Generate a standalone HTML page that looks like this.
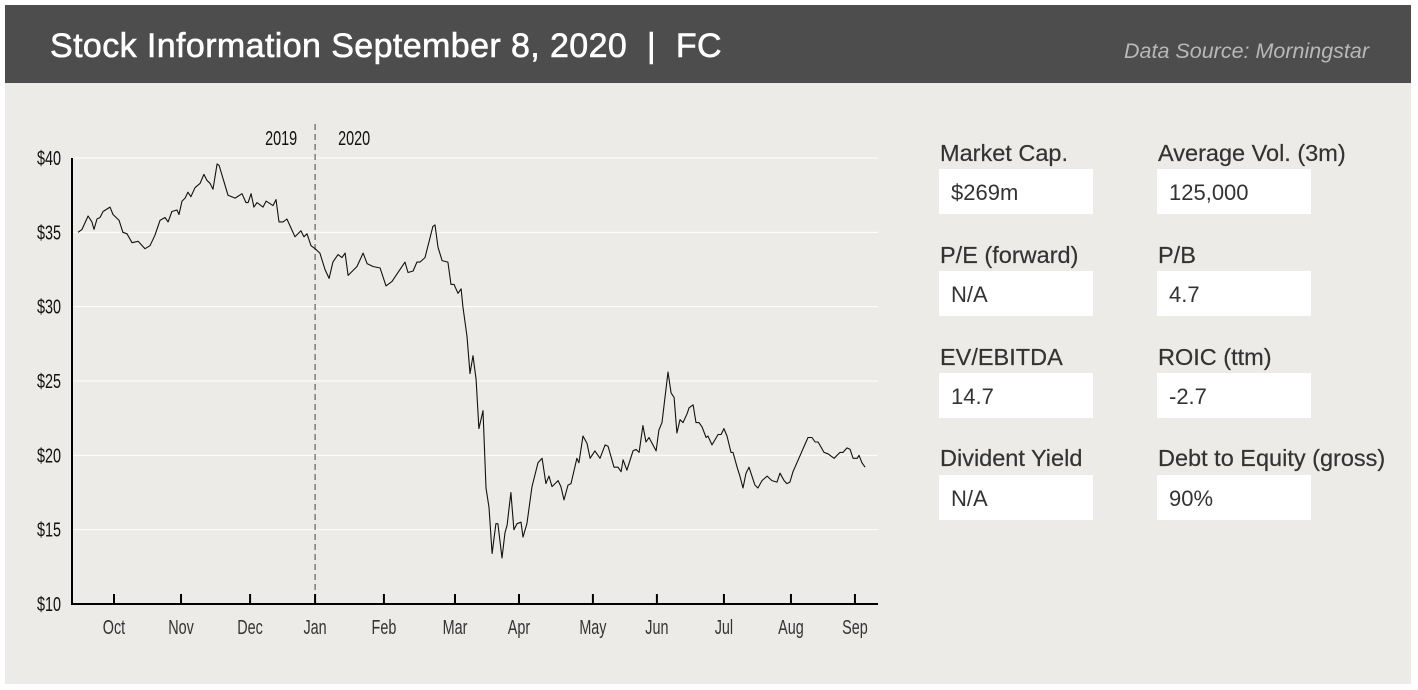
<!DOCTYPE html>
<html><head><meta charset="utf-8">
<style>
body{margin:0;width:1418px;height:690px;background:#fff;position:relative;overflow:hidden;font-family:"Liberation Sans",sans-serif;}
#header{position:absolute;left:5px;top:5px;width:1406px;height:78px;background:#4d4d4d;}
#title{position:absolute;left:45px;top:22px;color:#fff;font-size:34px;letter-spacing:0.4px;-webkit-text-stroke:0.6px #fff;white-space:nowrap;}
#source{position:absolute;right:42px;top:34px;color:#b8b8b8;font-size:21.5px;font-style:italic;}
#panel{position:absolute;left:5px;top:83px;width:1406px;height:601px;background:#ecebe8;}
.lbl{position:absolute;font-size:23.5px;color:#333;-webkit-text-stroke:0.2px #333;white-space:nowrap;}
.box{position:absolute;width:154px;height:45px;background:#fff;font-size:22px;color:#333;line-height:48px;box-sizing:border-box;padding-left:12px;}
svg text{font-family:"Liberation Sans",sans-serif;}
</style></head><body>
<div id="header">
 <div id="title">Stock Information September 8, 2020 &nbsp;|&nbsp; FC</div>
 <div id="source">Data Source: Morningstar</div>
</div>
<div id="panel"></div>
<svg id="chart" width="1418" height="690" style="position:absolute;left:0;top:0"></svg>

<div class="lbl" style="left:940px;top:140px">Market Cap.</div>
<div class="box" style="left:939px;top:169px">$269m</div>
<div class="lbl" style="left:1158px;top:140px">Average Vol. (3m)</div>
<div class="box" style="left:1157px;top:169px">125,000</div>
<div class="lbl" style="left:940px;top:242px">P/E (forward)</div>
<div class="box" style="left:939px;top:271px">N/A</div>
<div class="lbl" style="left:1158px;top:242px">P/B</div>
<div class="box" style="left:1157px;top:271px">4.7</div>
<div class="lbl" style="left:940px;top:344px">EV/EBITDA</div>
<div class="box" style="left:939px;top:373px">14.7</div>
<div class="lbl" style="left:1158px;top:344px">ROIC (ttm)</div>
<div class="box" style="left:1157px;top:373px">-2.7</div>
<div class="lbl" style="left:940px;top:445px">Divident Yield</div>
<div class="box" style="left:939px;top:475px">N/A</div>
<div class="lbl" style="left:1158px;top:445px">Debt to Equity (gross)</div>
<div class="box" style="left:1157px;top:475px">90%</div>

<script>
// trading-time axis units (chart-day index)
const days=[12.2,14.2,17.2,19.1,20.1,21.6,23.1,24.6,28.0,29.5,32.5,34.4,36.4,38.9,41.9,45.3,47.8,50.2,52.7,55.2,56.7,58.6,61.1,62.1,63.6,65.1,66.5,68.0,70.0,72.5,74.4,75.9,77.4,78.9,80.9,81.9,84.3,86.3,89.8,93.2,95.2,96.2,97.7,99.1,100.6,103.6,105.1,108.5,110.0,111.5,113.5,115.4,119.4,122.3,123.8,125.3,127.3,129.3,131.7,134.2,136.2,138.1,140.6,142.6,144.1,145.6,150.0,153.0,155.0,157.9,161.4,164.3,167.3,173.7,175.2,177.7,179.6,181.1,183.6,187.5,188.5,190.0,192.0,194.9,196.4,197.9,199.9,201.4,202.3,204.3,205.8,207.3,208.8,210.2,212.2,213.7,215.2,216.7,218.6,219.6,221.6,223.1,224.1,226.0,227.5,229.0,231.0,232.0,233.9,236.4,239.4,241.4,243.3,244.8,246.3,249.3,250.7,252.2,254.2,255.7,258.6,259.6,261.6,263.6,265.1,267.5,270.0,272.5,274.0,276.9,278.9,280.4,281.4,283.3,286.3,287.8,289.3,291.2,292.7,294.2,297.7,299.1,300.6,303.6,305.1,306.6,308.0,309.5,311.0,313.0,314.0,316.0,317.4,318.9,320.4,322.4,323.3,325.3,328.3,329.8,331.2,332.7,334.7,335.7,337.7,339.1,340.6,342.1,343.6,346.5,348.0,350.0,352.5,354.9,357.4,358.9,360.9,362.3,363.8,365.3,372.7,374.7,376.2,377.7,380.6,382.6,385.6,388.5,390.0,392.0,393.5,395.0,397.0,397.9,399.4,400.9];
const prices=[35.0,35.2,36.1,35.7,35.2,35.9,36.0,36.4,36.7,36.2,35.8,35.0,34.9,34.3,34.4,33.9,34.1,34.8,35.8,36.0,35.7,36.4,36.5,36.2,37.1,37.3,37.7,37.4,38.0,38.3,38.9,38.5,38.3,37.9,39.6,39.5,38.4,37.5,37.3,37.6,37.0,37.0,37.6,36.7,37.0,36.7,37.1,36.8,37.2,35.7,35.7,35.9,34.7,35.1,34.7,34.9,34.1,33.9,33.6,32.5,31.9,33.0,33.5,33.3,33.6,32.1,32.7,33.6,32.9,32.7,32.6,31.4,31.7,33.0,32.3,32.4,33.0,33.0,33.3,35.4,35.5,34.0,33.1,33.0,31.5,31.5,30.9,31.2,30.0,28.0,25.5,26.7,25.1,21.8,23.0,17.8,16.5,13.4,15.4,15.4,13.1,14.8,15.3,17.5,15.0,15.4,15.5,14.5,15.4,17.9,19.5,19.8,18.1,18.6,17.9,18.3,17.9,17.0,18.0,18.1,19.8,19.5,21.3,20.8,19.8,20.3,19.8,20.7,20.6,19.2,19.2,18.9,19.7,19.0,20.3,20.4,20.2,22.0,20.9,21.2,20.3,21.7,22.2,25.6,24.2,23.9,21.5,22.4,22.2,22.8,23.2,23.4,22.2,22.2,21.9,21.2,21.3,20.7,21.4,21.4,21.8,21.3,20.2,20.2,19.2,18.6,17.8,18.8,19.2,18.0,17.8,18.3,18.6,18.3,18.2,18.8,18.3,18.1,18.2,18.9,21.2,21.2,20.9,20.9,20.2,20.1,19.8,20.2,20.2,20.5,20.4,19.8,19.8,20.0,19.5,19.2];
const yTicks=[10,15,20,25,30,35,40];
const yTickLabels=["$10","$15","$20","$25","$30","$35","$40"];
const monthDays=[30,63.1,97.2,129.3,163.3,198.4,230.0,266.5,298.1,331.2,364.3,395.9];
const monthLabels=["Oct","Nov","Dec","Jan","Feb","Mar","Apr","May","Jun","Jul","Aug","Sep"];
const yearSplitDay=129.3;

const NS="http://www.w3.org/2000/svg";
const svg=document.getElementById('chart');
const X0=72,X1=878,Y0=604,Y1=158;
function xs(d){return 114+(d-30)*2.025;}
function ys(v){return Y0-(v-10)*(Y0-Y1)/30;}
function mk(tag,attrs){const e=document.createElementNS(NS,tag);for(const k in attrs)e.setAttribute(k,attrs[k]);svg.appendChild(e);return e;}
function ntext(x,y,str,anchor,size,fill){
  const t=mk('text',{transform:'translate('+x+','+y+') scale(0.72,1)','text-anchor':anchor,'font-size':size,fill:fill});
  t.textContent=str;return t;
}

yTicks.forEach((t,i)=>{
  if(t>10){const g=mk('line',{x1:X0,x2:X1,y1:ys(t),y2:ys(t),stroke:'#ffffff','stroke-width':1});
  
  }
  const tx=ntext(X0-11,ys(t)+7,yTickLabels[i],'end',20,'#111');
  
  
});
const dl=mk('line',{x1:xs(yearSplitDay),x2:xs(yearSplitDay),y1:124,y2:Y0,stroke:'#444','stroke-width':1,'stroke-dasharray':'6,4'});


const t19=ntext(xs(yearSplitDay)-18,145,'2019','end',20,'#111');


const t20=ntext(xs(yearSplitDay)+23,145,'2020','start',20,'#111');



let d='';
days.forEach((dd,i)=>{d+=(i?'L':'M')+xs(dd).toFixed(1)+','+ys(prices[i]).toFixed(1);});
const pl=mk('path',{d:d,fill:'none',stroke:'#111','stroke-width':1.1,'stroke-linejoin':'round'});



const ya=mk('line',{x1:X0,x2:X0,y1:Y1,y2:Y0+1,stroke:'#000','stroke-width':2});


const xa=mk('line',{x1:X0,x2:X1,y1:Y0,y2:Y0,stroke:'#000','stroke-width':2});


monthDays.forEach((m,i)=>{
  const tk=mk('line',{x1:xs(m),x2:xs(m),y1:Y0-10,y2:Y0,stroke:'#000','stroke-width':2});
  
  
  const tl=ntext(xs(m),634,monthLabels[i],'middle',20,'#333');
  
  
});
</script>
</body></html>
